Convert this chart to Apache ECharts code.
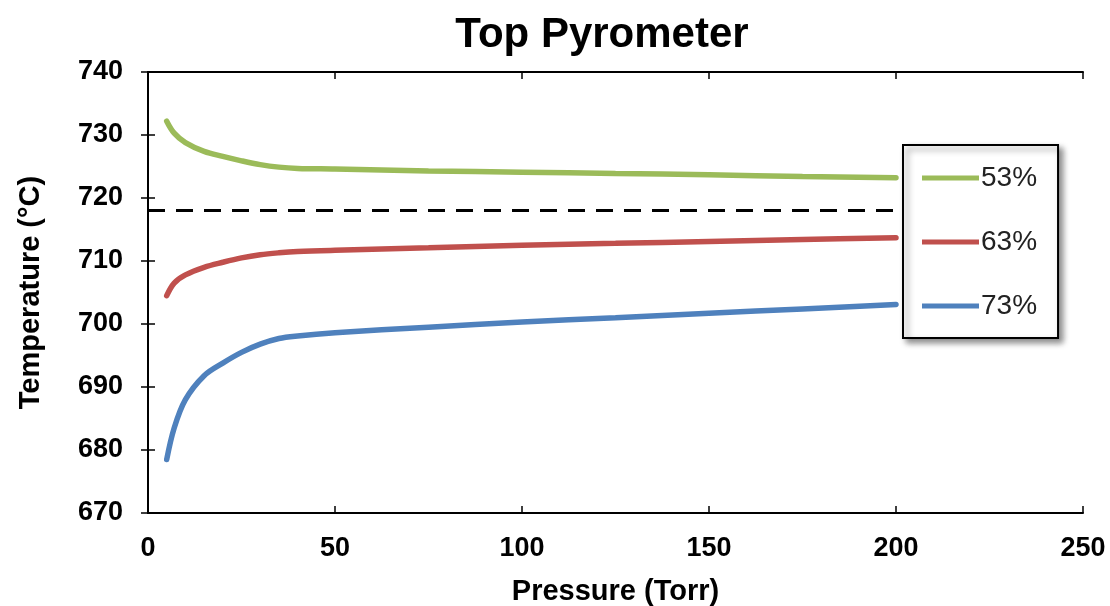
<!DOCTYPE html>
<html><head><meta charset="utf-8">
<script src="https://cdn.jsdelivr.net/npm/echarts@6/dist/echarts.min.js"></script>
<style>html,body{margin:0;padding:0;background:#fff}#c{width:1110px;height:606px}</style>
</head><body><div id="c"></div>
<script>
const pressure = [5, 7, 10, 15, 20, 25, 30, 35, 40, 50, 75, 100, 125, 150, 175, 200];
const temp53 = [732.2, 730.3, 728.8, 727.4, 726.6, 725.9, 725.3, 724.9, 724.7, 724.6, 724.3, 724.1, 723.9, 723.7, 723.4, 723.2];
const temp63 = [704.5, 706.5, 707.8, 709.0, 709.8, 710.5, 711.0, 711.3, 711.5, 711.7, 712.1, 712.5, 712.8, 713.1, 713.4, 713.7];
const temp73 = [678.5, 683.5, 688.0, 691.8, 693.8, 695.5, 696.8, 697.7, 698.1, 698.6, 699.5, 700.3, 701.0, 701.7, 702.4, 703.1];
const refX = [0, 200];
const refY = [718, 718];
const seriesNames = ['53%', '63%', '73%'];
const colors = ['#9BBB59', '#C0504D', '#4F81BD'];

const pair = (xs, ys) => xs.map((x, i) => [x, ys[i]]);
const font = 'Liberation Sans, Arial, sans-serif';
const chart = echarts.init(document.getElementById('c'));
const lineSeries = [temp53, temp63, temp73].map((d, i) => ({
  name: seriesNames[i], type: 'line', data: pair(pressure, d),
  smooth: 0.35, showSymbol: false, symbol: 'none',
  lineStyle: { color: colors[i], width: 5.5, cap: 'round' }, itemStyle: { color: colors[i] },
  xAxisIndex: 0, yAxisIndex: 0, z: 3
}));
const tickStyle = { show: true, inside: true, length: 7, lineStyle: { color: '#000', width: 1.5 } };
const axLine = { show: true, lineStyle: { color: '#000', width: 2 } };
const lbl = { fontFamily: font, fontSize: 27, fontWeight: 'bold', color: '#000' };
const nameStyle = { fontFamily: font, fontSize: 29, fontWeight: 'bold', color: '#000' };
chart.setOption({
  animation: false,
  title: { text: 'Top Pyrometer', left: 597, textAlign: 'center', top: 9,
    textStyle: { fontFamily: font, fontSize: 42, fontWeight: 'bold', color: '#000' } },
  grid: { left: 148, right: 27, top: 72, bottom: 93, containLabel: false, outerBoundsMode: 'none' },
  legend: {
    data: seriesNames, orient: 'vertical', left: 903, top: 145,
    padding: [19, 21, 18, 19], itemGap: 36, itemWidth: 57, itemHeight: 5, icon: 'rect',
    backgroundColor: '#fff', borderColor: '#000', borderWidth: 2,
    shadowColor: 'rgba(0,0,0,0.45)', shadowBlur: 6, shadowOffsetX: 4, shadowOffsetY: 4,
    textStyle: { fontFamily: font, fontSize: 28, color: '#222', lineHeight: 26, padding: [0,0,0,-3] }
  },
  xAxis: [{
    type: 'value', min: 0, max: 250, interval: 50,
    name: 'Pressure (Torr)', nameLocation: 'middle', nameGap: 64, nameTextStyle: nameStyle,
    axisLine: axLine, axisTick: tickStyle,
    axisLabel: Object.assign({ margin: 22 }, lbl), splitLine: { show: false }
  }, {
    type: 'value', min: 0, max: 250, interval: 50, position: 'top',
    axisLine: axLine, axisTick: tickStyle, axisLabel: { show: false }, splitLine: { show: false }
  }],
  yAxis: [{
    type: 'value', min: 670, max: 740, interval: 10,
    name: 'Temperature (°C)', nameLocation: 'middle', nameGap: 103, nameTextStyle: nameStyle,
    axisLine: axLine, axisTick: tickStyle,
    axisLabel: Object.assign({ margin: 25 }, lbl), splitLine: { show: false }
  }, {
    type: 'value', min: 670, max: 740, interval: 10, position: 'right',
    axisLine: axLine, axisTick: tickStyle, axisLabel: { show: false }, splitLine: { show: false }
  }],
  series: [
    ...lineSeries,
    { name: 'ref', type: 'line', data: pair(refX, refY), showSymbol: false, symbol: 'none',
      lineStyle: { color: '#000', width: 3, type: [17, 11] }, z: 2, silent: true }
  ]
});
</script></body></html>
